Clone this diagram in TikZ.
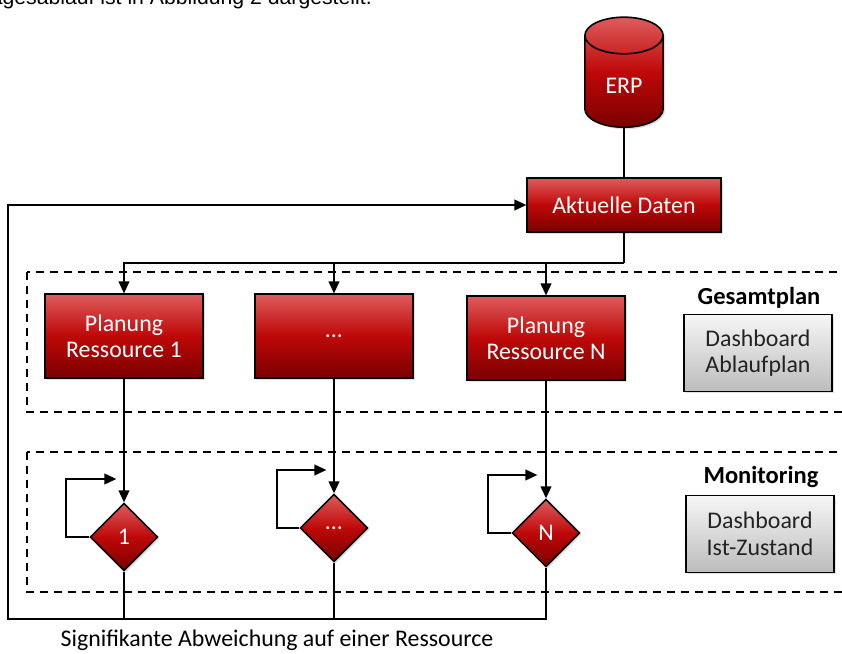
\documentclass[tikz,border=0pt]{standalone}
\usepackage{fontspec}
\setmainfont{Carlito}
\newfontfamily\leadfont{Liberation Sans}
\usetikzlibrary{shapes.geometric,arrows.meta,shadows}

\definecolor{redtop}{RGB}{222,92,92}
\definecolor{redmid}{RGB}{190,8,8}
\definecolor{redbot}{RGB}{122,0,0}
\definecolor{graytop}{RGB}{246,246,246}
\definecolor{graybot}{RGB}{188,188,188}
\definecolor{dashtext}{RGB}{35,35,35}

\tikzset{
    boxfont/.style={font=\fontsize{18}{19.5}\selectfont},
    redbox/.style={draw=black, line width=1.2pt, top color=redtop, bottom color=redbot,
        middle color=redmid, text=white, boxfont, align=center,
        drop shadow={opacity=0.25, shadow xshift=1.5pt, shadow yshift=-1.5pt}},
    planbox/.style={redbox, rectangle, minimum width=119pt, minimum height=63pt},
    checkbox/.style={redbox, diamond, minimum width=51pt, minimum height=51pt, inner sep=0pt},
    dashbox/.style={draw=black, line width=1.2pt, top color=graytop, bottom color=graybot,
        text=dashtext, font=\fontsize{18}{20}\selectfont, align=center,
        minimum width=112pt, minimum height=58pt,
        drop shadow={opacity=0.25, shadow xshift=1.5pt, shadow yshift=-1.5pt}},
    zonetitle/.style={font=\fontsize{18.5}{20}\selectfont\bfseries},
    link/.style={line width=1.4pt},
    flow/.style={link, -{Triangle[length=9pt,width=8pt]}},
    zone/.style={line width=1.4pt, dash pattern=on 6pt off 4.5pt}
}

\begin{document}
\begin{tikzpicture}[x=0.0265cm, y=-0.0265cm]
    \clip (0,0) rectangle (842,654);

    % cut-off line of the running text
    \node[font=\leadfont\fontsize{16}{18}\selectfont, anchor=base east, inner sep=0pt] (lead) at (372,5) {Tagesablauf ist in Abbildung 2 dargestellt.};

    % zones
    \draw[zone] (27,272) rectangle (870,412);
    \draw[zone] (27,452) rectangle (870,592);
    \node[zonetitle] (gesamt) at (759,298) {Gesamtplan};
    \node[zonetitle] (monitor) at (761,477) {Monitoring};
    \node[dashbox] (dashplan) at (758,353) {Dashboard\\Ablaufplan};
    \node[dashbox] (dashist) at (760,534) {Dashboard\\Ist-Zustand};

    % data source
    \node[redbox, cylinder, shape border rotate=90, aspect=0.8, minimum width=59pt, minimum height=83pt] (erp) at (624,86) {ERP};
    \node[redbox, rectangle, minimum width=146pt, minimum height=40.5pt] (aktuell) at (624,205) {Aktuelle Daten};

    % planning per resource
    \node[planbox] (plan1) at (124,336) {Planung\\Ressource 1};
    \node[planbox] (plandots) at (334,336) {...};
    \node[planbox] (planN) at (546,338) {Planung\\Ressource N};

    % monitoring per resource
    \node[checkbox] (check1) at (124,537) {1};
    \node[checkbox] (checkdots) at (334,528) {...};
    \node[checkbox] (checkN) at (546,533) {N};

    \node[boxfont] (caption) at (277,640) {Signifikante Abweichung auf einer Ressource};

    \coordinate (split) at (624,263);
    \coordinate (back) at (8,619);

    \draw[link] (erp.south) -- (aktuell.north);
    \draw[link] (aktuell.south) -- (split);
    \draw[flow] (split) -| (plan1.north);
    \draw[flow] (split) -| (plandots.north);
    \draw[flow] (split) -| (planN.north);

    \draw[flow] (plan1.south) -- (check1.north);
    \draw[flow] (plandots.south) -- (checkdots.north);
    \draw[flow] (planN.south) -- (checkN.north);

    \draw[flow] (check1.west) -| ++(-23,-58) -- ++(50,0);
    \draw[flow] (checkdots.west) -| ++(-22,-58) -- ++(49,0);
    \draw[flow] (checkN.west) -| ++(-23,-58) -- ++(49,0);

    % feedback
    \draw[flow] (checkN.south) |- (back) |- (aktuell.west);
    \draw[link] (check1.south) -- (check1.south |- back);
    \draw[link] (checkdots.south) -- (checkdots.south |- back);
\end{tikzpicture}
\end{document}
